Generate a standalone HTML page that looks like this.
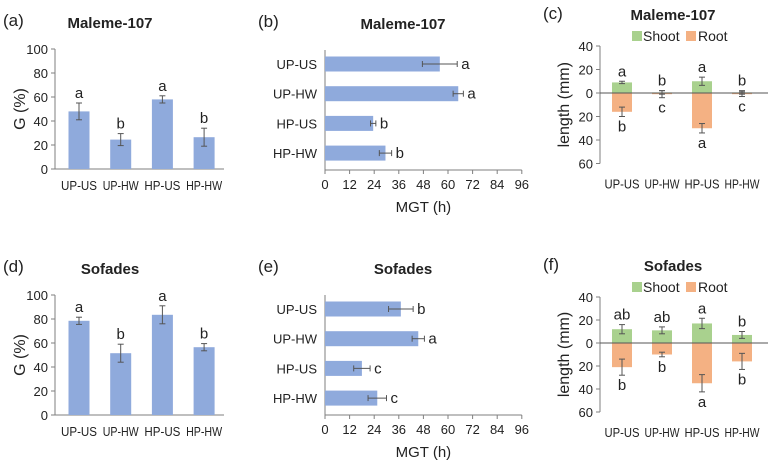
<!DOCTYPE html>
<html><head><meta charset="utf-8">
<style>
html,body{margin:0;padding:0;background:#fff;}
svg{display:block;font-family:"Liberation Sans",Calibri,sans-serif;}
</style></head>
<body>
<svg id="fig" width="774" height="461" viewBox="0 0 774 461" xmlns="http://www.w3.org/2000/svg"></svg>
<script>
const categories = ["UP-US","UP-HW","HP-US","HP-HW"];
// (a) Maleme-107 germination
const gA = [48, 24.5, 58, 26.5];
const gAErr = [7, 5, 3, 7.5];
const gALetters = ["a","b","a","b"];
// (d) Sofades germination
const gD = [78.5, 51.5, 83.5, 56.5];
const gDErr = [3, 7.5, 7.5, 3];
const gDLetters = ["a","b","a","b"];
// (b) Maleme-107 MGT
const mB = [56, 65, 23.5, 29.5];
const mBErr = [8.5, 2.5, 1.3, 3];
const mBLetters = ["a","a","b","b"];
// (e) Sofades MGT
const mE = [37, 45.5, 18, 25.5];
const mEErr = [6, 3, 4, 4.5];
const mELetters = ["b","a","c","c"];
// (c) Maleme-107 length
const shootC = [9, 0.5, 10, 0.5];
const shootCErr = [1, 1.5, 3.5, 1.5];
const rootC = [16, 1, 30, 1];
const rootCErr = [4, 3, 4, 2];
const shootCLetters = ["a","b","a","b"];
const rootCLetters = ["b","c","a","c"];
// (f) Sofades length
const shootF = [12, 11, 17, 7];
const shootFErr = [4, 3, 4.5, 3];
const rootF = [21, 10, 35, 16];
const rootFErr = [7, 2, 7.5, 7];
const shootFLetters = ["ab","ab","a","b"];
const rootFLetters = ["b","b","a","b"];
const gTicks = [0,20,40,60,80,100];
const mTicks = [0,12,24,36,48,60,72,84,96];
const lTicks = [40,20,0,20,40,60];

const NS="http://www.w3.org/2000/svg";
const svg=document.getElementById('fig');
function mk(tag,attrs,parent){const e=document.createElementNS(NS,tag);for(const k in attrs)e.setAttribute(k,attrs[k]);(parent||svg).appendChild(e);return e;}
function txt(s,x,y,size,anchor,parent,extra){const t=mk('text',Object.assign({x:x,y:y,'font-size':size,'text-anchor':anchor||'middle',fill:'#222'},extra||{}),parent);t.textContent=s;return t;}
const AX='#7f7f7f', BLUE='#8faadc', GREEN='#a9d18e', ORANGE='#f4b183', ERR='#555';
const CAT_STYLE={textLength:36,lengthAdjust:'spacingAndGlyphs'};

function vbarPanel(id,ox,oy,title,label,vals,errs,letters){
  const g=mk('g',{});
  
  
  const y0=oy+120, ax=55;
  const ys=v=>y0-v*1.2;
  const xs=i=>79+i*41.7;
  const pl=txt('('+id+')',3,oy-23,17,'start',g);
  
  const tt=txt(title,110,oy-21,15,'middle',g,{'font-weight':'bold'});
  
  const yt=txt('G (%)',0,0,16,'middle',g,{transform:'translate(25,'+(oy+60)+') rotate(-90)'});
  
  mk('line',{x1:ax,y1:ys(100),x2:ax,y2:y0,stroke:AX},g);
  mk('line',{x1:ax,y1:y0,x2:224,y2:y0,stroke:AX},g);
  gTicks.forEach(t=>{mk('line',{x1:ax-4,y1:ys(t),x2:ax,y2:ys(t),stroke:AX},g);
    const tl=txt(String(t),ax-7,ys(t)+5,13,'end',g);});
  vals.forEach((v,i)=>{
    const r=mk('rect',{x:xs(i)-10.5,y:ys(v),width:21,height:y0-ys(v),fill:BLUE},g);
    
    
    const e=errs[i];
    mk('line',{x1:xs(i),y1:ys(v+e),x2:xs(i),y2:ys(v-e),stroke:ERR},g);
    mk('line',{x1:xs(i)-3,y1:ys(v+e),x2:xs(i)+3,y2:ys(v+e),stroke:ERR},g);
    mk('line',{x1:xs(i)-3,y1:ys(v-e),x2:xs(i)+3,y2:ys(v-e),stroke:ERR},g);
    const l=txt(letters[i],xs(i),ys(v+e)-5,15,'middle',g);
    
    const c=txt(categories[i],xs(i),y0+21,13,'middle',g,CAT_STYLE);
    
  });
}
function hbarPanel(id,ox,oy,title,vals,errs,letters){
  const g=mk('g',{});
  
  
  const ax=325, yb=oy+120;
  const xs=v=>ax+v*2.05;
  const yc=i=>oy+14+i*29.7;
  const pl=txt('('+id+')',258,oy-23,17,'start',g);
  
  const tt=txt(title,403,oy-21,15,'middle',g,{'font-weight':'bold'});
  
  mk('line',{x1:ax,y1:oy,x2:ax,y2:yb,stroke:AX},g);
  mk('line',{x1:ax,y1:yb,x2:xs(96),y2:yb,stroke:AX},g);
  mTicks.forEach(t=>{mk('line',{x1:xs(t),y1:yb,x2:xs(t),y2:yb+4,stroke:AX},g);
    const tl=txt(String(t),xs(t),yb+19,13,'middle',g);});
  const xt=txt('MGT (h)',xs(48),yb+42,15,'middle',g);
  
  vals.forEach((v,i)=>{
    const r=mk('rect',{x:ax,y:yc(i)-7.5,width:xs(v)-ax,height:15,fill:BLUE},g);
    
    
    const e=errs[i];
    mk('line',{x1:xs(v-e),y1:yc(i),x2:xs(v+e),y2:yc(i),stroke:ERR},g);
    mk('line',{x1:xs(v-e),y1:yc(i)-3,x2:xs(v-e),y2:yc(i)+3,stroke:ERR},g);
    mk('line',{x1:xs(v+e),y1:yc(i)-3,x2:xs(v+e),y2:yc(i)+3,stroke:ERR},g);
    const l=txt(letters[i],xs(v+e)+4,yc(i)+5,15,'start',g);
    
    const c=txt(categories[i],317,yc(i)+5,13,'end',g);
    
  });
}
function lenPanel(id,oy,sc,title,sh,shE,rt,rtE,shL,rtL){
  const g=mk('g',{});
  
  
  const ax=600;
  const ys=v=>oy-v*sc;
  const xs=i=>622+i*40;
  const pl=txt('('+id+')',543,ys(40)-27,17,'start',g);
  
  const tt=txt(title,673,ys(40)-26,15,'middle',g,{'font-weight':'bold'});
  
  const lg=mk('g',{},g);
  
  const ly=ys(40)-10;
  const s1=mk('rect',{x:632,y:ly-5,width:10,height:10,fill:GREEN},lg);
  
  const t1=txt('Shoot',643,ly+5,14,'start',lg);
  const s2=mk('rect',{x:686,y:ly-5,width:10,height:10,fill:ORANGE},lg);
  
  const t2=txt('Root',698,ly+5,14,'start',lg);
  const yt=txt('length (mm)',0,0,16,'middle',g,{transform:'translate(569,'+ys(-10)+') rotate(-90)'});
  
  mk('line',{x1:ax,y1:ys(40),x2:ax,y2:ys(-60),stroke:AX},g);
  lTicks.forEach((t,i)=>{const v=40-i*20;mk('line',{x1:ax-4,y1:ys(v),x2:ax,y2:ys(v),stroke:AX},g);
    const tl=txt(String(t),ax-7,ys(v)+5,13,'end',g);});
  sh.forEach((v,i)=>{
    const x=xs(i);
    const r=mk('rect',{x:x-10,y:ys(v),width:20,height:v*sc,fill:GREEN},g);
    
    
    const rv=rt[i];
    const r2=mk('rect',{x:x-10,y:oy,width:20,height:rv*sc,fill:ORANGE},g);
    
    
    const e=shE[i], e2=rtE[i];
    [[v+e,v-e],[-(rv-e2),-(rv+e2)]].forEach(p=>{
      mk('line',{x1:x,y1:ys(p[0]),x2:x,y2:ys(p[1]),stroke:ERR},g);
      mk('line',{x1:x-3,y1:ys(p[0]),x2:x+3,y2:ys(p[0]),stroke:ERR},g);
      mk('line',{x1:x-3,y1:ys(p[1]),x2:x+3,y2:ys(p[1]),stroke:ERR},g);
    });
    const l1=txt(shL[i],x,ys(Math.max(v+e,2))-5,15,'middle',g);
    
    const l2=txt(rtL[i],x,ys(-Math.max(rv+e2,2))+15,15,'middle',g);
    
    const c=txt(categories[i],x,ys(-60)+25,13,'middle',g,{textLength:35,lengthAdjust:'spacingAndGlyphs'});
    
  });
  mk('line',{x1:ax,y1:oy,x2:768,y2:oy,stroke:'#555'},g);
}
vbarPanel('a',0,49,'Maleme-107','G (%)',gA,gAErr,gALetters);
vbarPanel('d',0,295,'Sofades','G (%)',gD,gDErr,gDLetters);
hbarPanel('b',0,50,'Maleme-107',mB,mBErr,mBLetters);
hbarPanel('e',0,295,'Sofades',mE,mEErr,mELetters);
lenPanel('c',93,1.175,'Maleme-107',shootC,shootCErr,rootC,rootCErr,shootCLetters,rootCLetters);
lenPanel('f',343,1.15,'Sofades',shootF,shootFErr,rootF,rootFErr,shootFLetters,rootFLetters);
</script>
</body></html>
